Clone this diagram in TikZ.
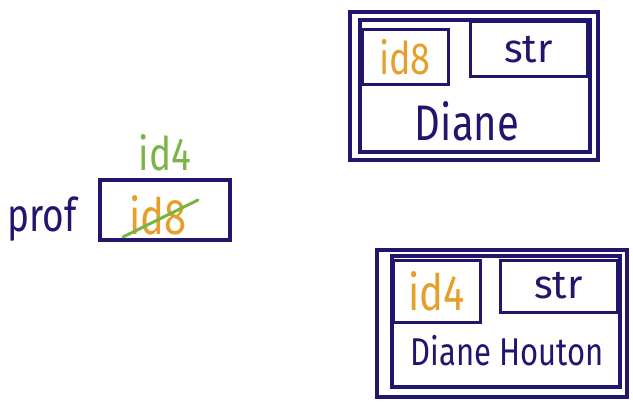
\documentclass[tikz,border=0pt]{standalone}
\usepackage{fontspec}
\usepackage{graphicx}
\setmainfont{Fira Sans}
\usetikzlibrary{positioning,calc}
\definecolor{ink}{RGB}{32,22,110}
\definecolor{idorange}{RGB}{228,160,42}
\definecolor{idgreen}{RGB}{122,180,68}
\newcommand{\hand}[1]{\fontsize{#1}{#1}\selectfont}
\newcommand{\tall}[1]{\scalebox{1}[1.25]{#1}}

\begin{document}
\begin{tikzpicture}[x=1pt, y=-1pt,
      frame/.style={rectangle, draw=ink, line width=3.2pt, inner sep=0pt},
      cell/.style={rectangle, draw=ink, line width=3pt, inner sep=0pt},
      label/.style={text=ink, inner sep=0pt},
      idval/.style={text=idorange, inner sep=0pt},
      strike/.style={draw=idgreen, line width=3pt, line cap=round}
    ]
    \useasboundingbox (0,0) rectangle (633,404);

    % --- variable prof ---
    \node[frame, minimum width=130pt, minimum height=60pt] (profbox) at (165,210) {};
    \node[label, font=\hand{37}] (prof) at (42,219) {\tall{prof}};
    \node[idval, font=\hand{40}] (profold) at (158,215) {\tall{id8}};
    \draw[strike] ($(profold.center)+(-35,22)$) -- ($(profold.center)+(40,-15)$);
    \node[text=idgreen, inner sep=0pt, font=\hand{37}, above=7pt of profbox.north] (profnew) {\tall{id4}};

    % --- object at id8 ---
    \node[frame, minimum width=248pt, minimum height=148pt] (objA) at (474,86) {};
    \node[frame, minimum width=230pt, minimum height=132pt] (objAin) at (475,86) {};
    \node[cell, minimum width=86pt, minimum height=55pt] (objAid) at (405,57.5) {};
    \node[cell, minimum width=117pt, minimum height=55pt] (objAtype) at (528.5,49.5) {};
    \node[idval, font=\hand{36}] at (objAid.center) {\tall{id8}};
    \node[label, font=\hand{40}] at (objAtype.center) {str};
    \node[label, font=\hand{40}] (objAval) at (467,121) {\tall{Diane}};

    % --- object at id4 ---
    \node[frame, minimum width=250pt, minimum height=147pt] (objB) at (502,323.5) {};
    \node[frame, minimum width=228pt, minimum height=131pt] (objBin) at (506,321.5) {};
    \node[cell, minimum width=87pt, minimum height=62pt] (objBid) at (436.5,291) {};
    \node[cell, minimum width=117pt, minimum height=52pt] (objBtype) at (558.5,286) {};
    \node[idval, font=\hand{40}] at (objBid.center) {\tall{id4}};
    \node[label, font=\hand{40}] at (objBtype.center) {str};
    \node[label, font=\hand{31}] (objBval) at (507,351) {\tall{Diane Houton}};
  \end{tikzpicture}
\end{document}
